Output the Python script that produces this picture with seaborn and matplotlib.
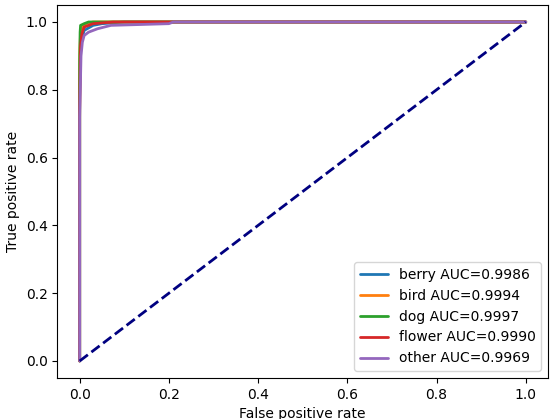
import matplotlib
matplotlib.use("Agg")
import matplotlib.pyplot as plt
import seaborn as sns
import pandas as pd

sns.set_style("white")
plt.rcParams['font.family'] = ['DejaVu Sans']
plt.rcParams['text.color'] = 'black'
plt.rcParams['axes.labelcolor'] = 'black'
plt.rcParams['xtick.color'] = 'black'
plt.rcParams['ytick.color'] = 'black'

classes = ["berry", "bird", "dog", "flower", "other"]
aucs = [0.9986, 0.9994, 0.9997, 0.9990, 0.9969]
colors = ["#1f77b4", "#ff7f0e", "#2ca02c", "#d62728", "#9467bd"]

fpr_berry = [0, 0, 0.002, 0.005, 0.01, 0.03, 0.05, 0.1, 1]
tpr_berry = [0, 0.78, 0.92, 0.95, 0.975, 0.99, 0.995, 1.0, 1.0]
fpr_bird = [0, 0, 0.002, 0.005, 0.015, 0.03, 1]
tpr_bird = [0, 0.90, 0.97, 0.985, 0.995, 1.0, 1.0]
fpr_dog = [0, 0, 0.001, 0.002, 0.01, 0.02, 1]
tpr_dog = [0, 0.88, 0.97, 0.99, 0.995, 1.0, 1.0]
fpr_flower = [0, 0, 0.002, 0.005, 0.01, 0.03, 0.075, 1]
tpr_flower = [0, 0.74, 0.93, 0.965, 0.985, 0.995, 1.0, 1.0]
fpr_other = [0, 0, 0.003, 0.006, 0.01, 0.02, 0.04, 0.07, 0.2, 0.21, 1]
tpr_other = [0, 0.72, 0.90, 0.94, 0.96, 0.97, 0.98, 0.99, 0.995, 1.0, 1.0]

fprs = [fpr_berry, fpr_bird, fpr_dog, fpr_flower, fpr_other]
tprs = [tpr_berry, tpr_bird, tpr_dog, tpr_flower, tpr_other]

fig, ax = plt.subplots(figsize=(5.57, 4.19), dpi=100)
for name, auc, c, fx, ty in zip(classes, aucs, colors, fprs, tprs):
    df = pd.DataFrame({"fpr": fx, "tpr": ty})
    sns.lineplot(data=df, x="fpr", y="tpr", sort=False, estimator=None,
                 color=c, lw=2, label=f"{name} AUC={auc:.4f}", ax=ax)
sns.lineplot(x=[0, 1], y=[0, 1], color="navy", lw=2, linestyle="--",
             estimator=None, ax=ax)

ax.set_xlabel("False positive rate")
ax.set_ylabel("True positive rate")
for s in ax.spines.values():
    s.set_color("black")
    s.set_linewidth(0.8)
ax.tick_params(direction="out", length=3.5, width=0.8, left=True, bottom=True)
ax.legend(loc="lower right")
fig.subplots_adjust(left=0.103, right=0.984, top=0.988, bottom=0.098)
fig.savefig("out.png", dpi=100)
